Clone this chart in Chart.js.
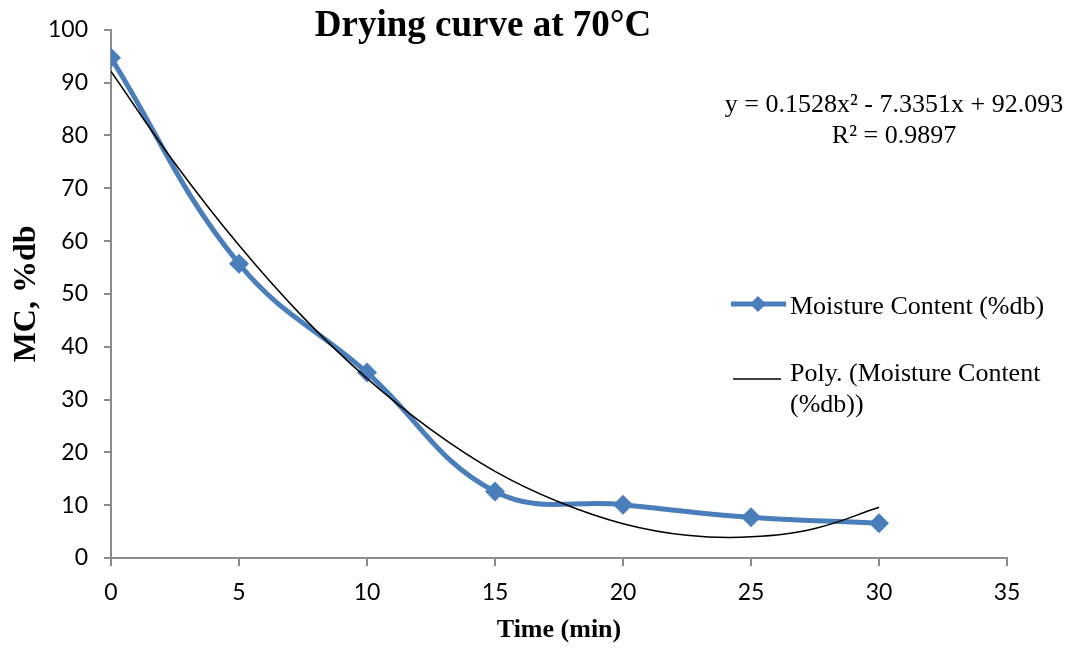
<!DOCTYPE html>
<html lang="en">
<head>
  <meta charset="UTF-8" />
  <title>Drying curve at 70°C</title>
  <script src="https://cdn.jsdelivr.net/npm/chart.js"></script>
  <style>
    body { margin: 0; background: #fff; }
    .chart-container { position: relative; width: 1072px; height: 650px; }
  </style>
</head>
<body>
  <div class="chart-container">
    <canvas id="dryingChart"></canvas>
  </div>

  <script>
    // Measured drying data (time in min, moisture content in %db)
    const timeMin = [0, 5, 10, 15, 20, 25, 30];
    const moistureDb = [94.7, 55.7, 35.1, 12.6, 10.1, 7.7, 6.6];

    // Polynomial trend line
    const trendTime = [0, 2.5, 5, 7.5, 10, 12.5, 15, 17.5, 20, 22.5, 25, 27.5, 30];
    const trendDb = [92.1, 74.7, 59.2, 45.6, 34.0, 24.3, 16.4, 10.6, 6.5, 4.3, 4.0, 5.6, 9.6];

    const xTicks = [0, 5, 10, 15, 20, 25, 30, 35];
    const yTicks = [0, 10, 20, 30, 40, 50, 60, 70, 80, 90, 100];

    const equationText = ['y = 0.1528x\u00B2 - 7.3351x + 92.093', 'R\u00B2 = 0.9897'];
    const seriesName = 'Moisture Content (%db)';
    const trendName = ['Poly. (Moisture Content', '(%db))'];

    const blue = '#4A7EBB';
    const axisGrey = '#8c8c8c';
    const serif = '"Liberation Serif", "Times New Roman", serif';

    // Title, equation and legend drawn by hand to sit where the original has them
    const annotations = {
      id: 'annotations',
      afterDraw(chart) {
        const ctx = chart.ctx;
        ctx.save();
        ctx.fillStyle = '#000';
        ctx.textBaseline = 'alphabetic';

        ctx.font = 'bold 37px ' + serif;
        ctx.textAlign = 'center';
        ctx.fillText('Drying curve at 70°C', 483, 36);

        ctx.font = '26px ' + serif;
        ctx.fillText(equationText[0], 894, 112);
        ctx.fillText(equationText[1], 894, 143);

        // legend: series
        ctx.strokeStyle = blue;
        ctx.lineWidth = 5;
        ctx.beginPath();
        ctx.moveTo(731, 304);
        ctx.lineTo(786, 304);
        ctx.stroke();
        ctx.fillStyle = blue;
        ctx.beginPath();
        ctx.moveTo(758, 296);
        ctx.lineTo(766, 304);
        ctx.lineTo(758, 312);
        ctx.lineTo(750, 304);
        ctx.closePath();
        ctx.fill();

        // legend: trend line
        ctx.strokeStyle = '#000';
        ctx.lineWidth = 1.5;
        ctx.beginPath();
        ctx.moveTo(733, 379);
        ctx.lineTo(781, 379);
        ctx.stroke();

        ctx.fillStyle = '#000';
        ctx.textAlign = 'left';
        ctx.fillText(seriesName, 790, 314);
        ctx.fillText(trendName[0], 790, 381);
        ctx.fillText(trendName[1], 790, 412);
        ctx.restore();
      }
    };

    const ctx = document.getElementById('dryingChart').getContext('2d');
    const dryingChart = new Chart(ctx, {
      type: 'line',
      data: {
        datasets: [
          {
            label: trendName.join(' '),
            data: trendTime.map((t, i) => ({ x: t, y: trendDb[i] })),
            borderColor: '#000',
            borderWidth: 1.5,
            pointRadius: 0,
            tension: 0.4,
            fill: false,
            order: 1
          },
          {
            label: seriesName,
            data: timeMin.map((t, i) => ({ x: t, y: moistureDb[i] })),
            borderColor: blue,
            backgroundColor: blue,
            borderWidth: 5,
            pointStyle: 'rectRot',
            pointRadius: 10,
            pointBorderWidth: 0,
            tension: 0.4,
            fill: false,
            order: 2
          }
        ]
      },
      options: {
        responsive: true,
        maintainAspectRatio: false,
        animation: false,
        layout: { padding: { left: 0, right: 65, top: 25, bottom: 0 } },
        plugins: {
          legend: { display: false },
          title: { display: false },
          tooltip: { enabled: false }
        },
        scales: {
          x: {
            type: 'linear',
            min: 0,
            max: 35,
            afterBuildTicks: s => { s.ticks = xTicks.map(v => ({ value: v })); },
            afterFit: s => { s.height = 92; },
            grid: { drawOnChartArea: false, color: axisGrey, lineWidth: 2, tickLength: 8 },
            border: { color: axisGrey, width: 2 },
            ticks: { color: '#000', font: { family: 'Lato', size: 23 }, padding: 13 },
            title: {
              display: true,
              text: 'Time (min)',
              color: '#000',
              font: { family: serif, size: 26, weight: 'bold' },
              padding: { top: 0, bottom: 4 }
            }
          },
          y: {
            min: 0,
            max: 100,
            afterBuildTicks: s => { s.ticks = yTicks.map(v => ({ value: v })); },
            afterFit: s => { s.width = 111; },
            grid: { drawOnChartArea: false, color: axisGrey, lineWidth: 2, tickLength: 7 },
            border: { color: axisGrey, width: 2 },
            ticks: { color: '#000', font: { family: 'Lato', size: 23 }, padding: 16 },
            title: {
              display: true,
              text: 'MC, %db',
              color: '#000',
              font: { family: serif, size: 32, weight: 'bold' },
              padding: { top: 8, bottom: 0 }
            }
          }
        }
      },
      plugins: [annotations]
    });
  </script>
</body>
</html>
